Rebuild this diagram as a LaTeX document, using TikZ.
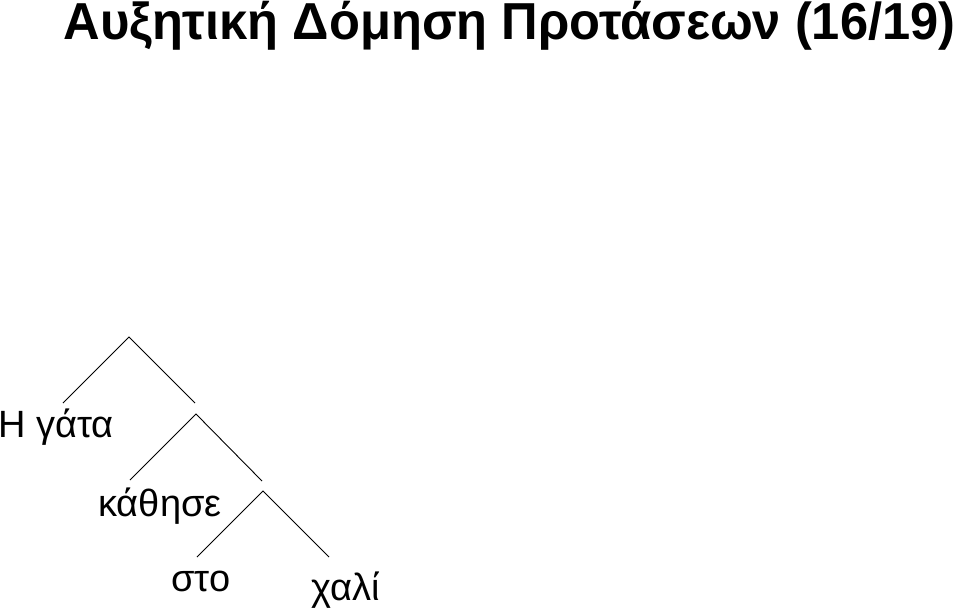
\documentclass[tikz,border=0pt]{standalone}
\usepackage{fontspec}
\usepackage{xcolor}
\setmainfont{Liberation Sans}

\begin{document}
\begin{tikzpicture}[x=1pt, y=-1pt, line width=0.9pt]
    \tikzset{word/.style={anchor=base west, inner sep=0pt, font=\fontsize{38}{42}\selectfont}}
    \useasboundingbox (0,0) rectangle (960,610);
    % title
    \node[anchor=base west, inner sep=0pt] (title) at (63,40)
        {\resizebox{892pt}{\height}{\fontsize{52}{58}\selectfont\bfseries Αυξητική Δόμηση Προτάσεων (16/19)}};
    % branch points and leaf ends
    \coordinate (top) at (129,337);
    \coordinate (topL) at (63,403);
    \coordinate (topR) at (195,403);
    \coordinate (mid) at (196,414);
    \coordinate (midL) at (130,480);
    \coordinate (midR) at (262,481);
    \coordinate (low) at (263,491);
    \coordinate (lowL) at (197,557);
    \coordinate (lowR) at (329,557);
    \draw (topL) -- (top) -- (topR);
    \draw (midL) -- (mid) -- (midR);
    \draw (lowL) -- (low) -- (lowR);
    % words
    \node[word] (cat) at (-2,437) {Η γάτα};
    \node[word] (sat) at (98,516) {κάθησε};
    \node[word] (on) at (171,591) {στο};
    \node[word] (rug) at (311,600) {χαλί};
\end{tikzpicture}
\end{document}
